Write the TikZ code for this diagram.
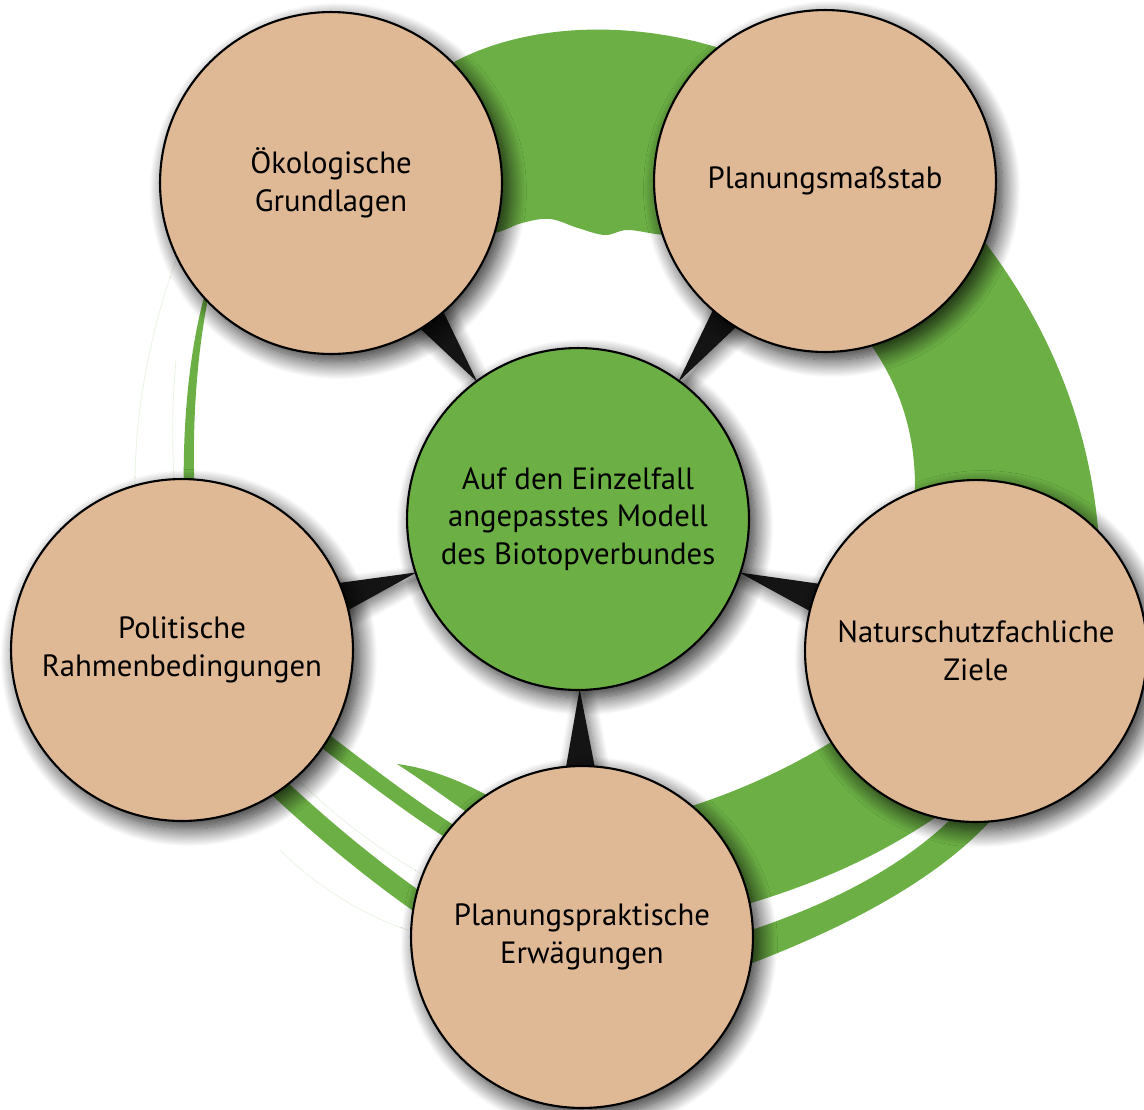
\documentclass[tikz,border=0pt]{standalone}
\usepackage{fontspec}
\setmainfont{PT Sans}
\usetikzlibrary{calc,backgrounds,shadows.blur}
\definecolor{bandgreen}{RGB}{108,176,69}
\definecolor{factorbrown}{RGB}{223,184,149}
\begin{document}
\begin{tikzpicture}[x=0.02cm, y=-0.02cm,
  factor/.style={circle, draw, line width=1.2pt, fill=factorbrown, minimum size=6.84cm, align=center,
    font=\fontsize{17.5}{21.5}\selectfont,
    blur shadow={shadow xshift=0.14cm, shadow yshift=-0.16cm, shadow blur radius=0.35cm, shadow blur steps=20, shadow opacity=85}},
  core/.style={factor, fill=bandgreen},
  pointer/.style={fill=black!92, blur shadow={shadow xshift=0.08cm, shadow yshift=-0.1cm, shadow blur radius=0.25cm, shadow blur steps=15, shadow opacity=60}},
  band/.style={fill=bandgreen},
  brush/.style={draw=bandgreen},
  faint/.style={draw=bandgreen!14, line width=0.5pt}]
\useasboundingbox (0,0) rectangle (1144,1110);

\node[core] (model) at (578,519) {Auf den Einzelfall\\angepasstes Modell\\des Biotopverbundes};
\node[factor] (oeko) at (331,183) {Ökologische\\Grundlagen};
\node[factor] (mass) at (825,181) {Planungsmaßstab};
\node[factor] (ziele) at (976,651) {Naturschutzfachliche\\Ziele};
\node[factor] (praxis) at (582,937) {Planungspraktische\\Erwägungen};
\node[factor] (politik) at (182,650) {Politische\\Rahmenbedingungen};

\begin{pgfonlayer}{background}
\fill[band] (440,70) .. controls (520,20) and (640,18) .. (740,55) -- (720,236)
  -- plot[smooth, tension=0.6] coordinates {(720,236) (665,235) (628,230) (605,235) (578,228) (550,219) (522,223) (495,233) (450,240)} -- cycle;
\fill[band] (950,200) .. controls (1040,300) and (1095,420) .. (1100,560) -- (910,545) .. controls (922,470) and (915,400) .. (860,330) -- cycle;
\fill[band] (660,815) .. controls (720,800) and (790,770) .. (850,730) -- (960,800) .. controls (880,860) and (800,890) .. (720,912) -- cycle;
\fill[band] (720,940) .. controls (820,910) and (900,870) .. (955,815) -- (1000,810) .. controls (950,870) and (860,925) .. (720,975) -- cycle;
\draw[brush, line width=0.3cm] (300,722) .. controls (370,775) and (420,815) .. (480,850);
\draw[brush, line width=0.4cm] (250,760) .. controls (300,810) and (380,880) .. (460,930);
\fill[band] (397,764) .. controls (430,768) and (465,782) .. (505,805) -- (490,828) .. controls (455,805) and (425,782) .. (397,764) -- cycle;
\fill[band] (212,280) .. controls (198,340) and (191,420) .. (195,500) -- (184,500) .. controls (182,420) and (190,340) .. (209,280) -- cycle;
\draw[faint] (178,255) .. controls (150,330) and (135,410) .. (135,485);
\draw[faint] (176,360) .. controls (172,400) and (172,440) .. (174,480);
\draw[faint] (300,782) .. controls (340,820) and (380,850) .. (420,873);
\draw[faint] (280,850) .. controls (320,890) and (370,918) .. (408,930);
\foreach \f in {oeko,mass,ziele,praxis,politik}
  \fill[pointer] ($(model)!3.4cm!(\f)$) -- ($(\f)!3.0cm!7:(model)$) -- ($(\f)!3.0cm!-7:(model)$) -- cycle;
\end{pgfonlayer}
\end{tikzpicture}
\end{document}
